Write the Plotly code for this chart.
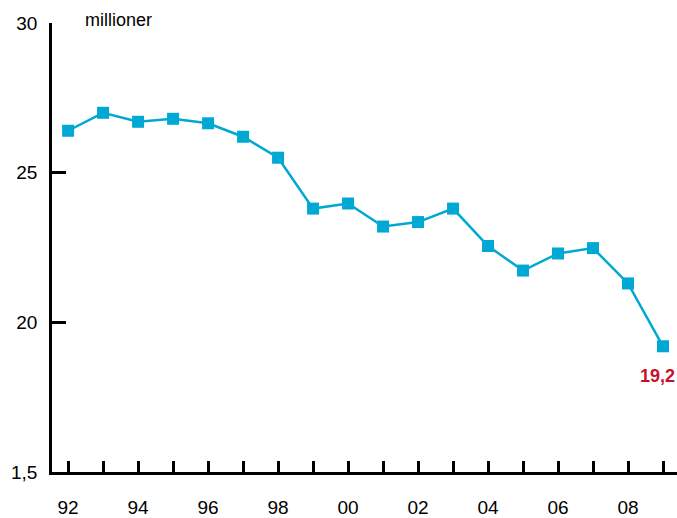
import plotly.graph_objects as go

years = list(range(1992, 2010))
values = [26.4, 27.0, 26.7, 26.8, 26.65, 26.2, 25.5, 23.8, 23.97, 23.2, 23.35, 23.8,
          22.55, 21.73, 22.3, 22.48, 21.3, 19.2]
x_tick_text = ["92", "", "94", "", "96", "", "98", "", "00", "", "02", "", "04", "", "06", "", "08", ""]
y_tick_vals = [15, 20, 25, 30]
y_tick_text = ["1,5", "20", "25", "30"]
last_label = "19,2"
unit_label = "millioner"

LINE = "#00a8d4"
FONT = "Liberation Sans, Arial, sans-serif"

fig = go.Figure()
fig.add_trace(go.Scatter(
    x=years, y=values, mode="lines+markers",
    line=dict(color=LINE, width=2.5),
    marker=dict(symbol="square", size=12, color=LINE),
    cliponaxis=False, showlegend=False,
))

fig.add_annotation(x=years[-1], y=values[-1], text="<b>" + last_label + "</b>",
                   showarrow=False, xshift=-6, yshift=-30,
                   font=dict(family=FONT, size=18, color="#c8102e"))
fig.add_annotation(x=0.0496, y=1, xref="paper", yref="paper", text=unit_label,
                   showarrow=False, xanchor="left", yanchor="middle", yshift=3,
                   font=dict(family=FONT, size=18, color="#000"))

fig.update_layout(
    width=677, height=518,
    margin=dict(l=52, r=0, t=23, b=46, autoexpand=False),
    paper_bgcolor="white", plot_bgcolor="white",
    font=dict(family=FONT, size=19, color="#000"),
    xaxis=dict(
        range=[1991.54, 2009.4], tickvals=years, ticktext=x_tick_text,
        ticks="inside", ticklen=11, tickwidth=2.5, tickcolor="#000",
        showline=True, linewidth=2.5, linecolor="#000",
        showgrid=False, zeroline=False, ticklabelstandoff=16, automargin=False,
    ),
    yaxis=dict(
        range=[15, 30], tickvals=y_tick_vals, ticktext=y_tick_text,
        ticks="inside", ticklen=14, tickwidth=2.5, tickcolor="#000",
        showline=True, linewidth=2.5, linecolor="#000",
        showgrid=False, zeroline=False, ticklabelstandoff=8, automargin=False,
    ),
)

fig.write_html("out.html", config={"displayModeBar": False},
               post_script="document.body.style.margin='0px';")
